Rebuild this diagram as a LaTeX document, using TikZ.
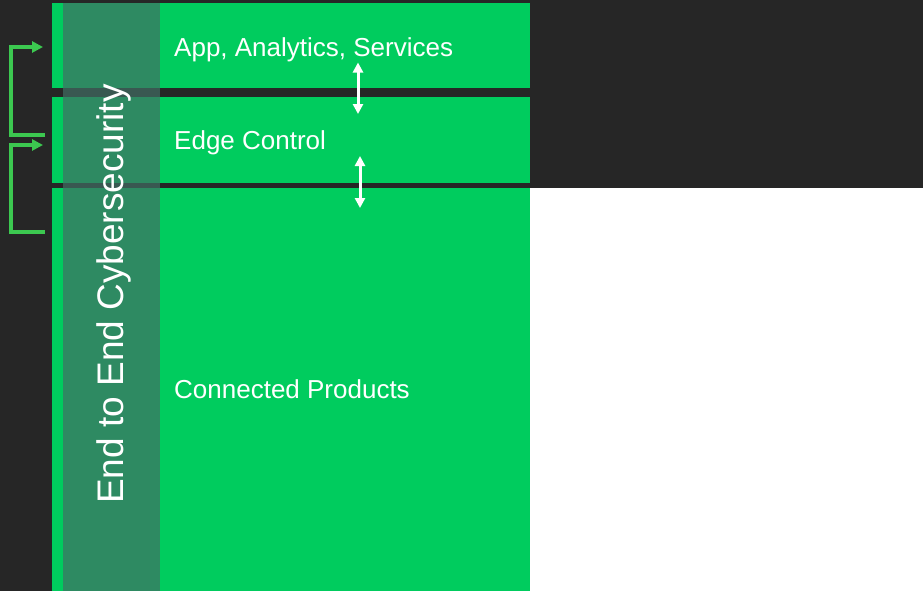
\documentclass[tikz,border=0pt]{standalone}
\usepackage{fontspec}
\setmainfont{Liberation Sans}
\usetikzlibrary{positioning, arrows.meta}
\definecolor{bg}{RGB}{38,38,38}
\definecolor{layergreen}{RGB}{0,204,94}
\definecolor{bandgrey}{RGB}{66,110,100}
\definecolor{loopgreen}{RGB}{60,200,80}
\tikzset{
  layer/.style={fill=layergreen, minimum width=478pt, anchor=north west, inner sep=0pt, outer sep=0pt},
  lbl/.style={text=white, font=\fontsize{26}{30}\selectfont, inner sep=0pt, text height=18.6pt, text depth=0pt},
  band/.style={fill=bandgrey, fill opacity=0.7, minimum width=97pt, minimum height=588pt, anchor=north west, inner sep=0pt},
  link/.style={white, line width=3pt, {Triangle[length=10pt,width=10pt]}-{Triangle[length=10pt,width=10pt]}},
  loop/.style={loopgreen, line width=3.3pt, -{Triangle[length=11pt,width=11pt]}}
}

\begin{document}
\begin{tikzpicture}[x=1pt, y=-1pt]
      \fill[bg] (0,0) rectangle (923,591);
      \fill[white] (530,188) rectangle (923,591);

      \node[layer, minimum height=85pt] (app) at (52,3) {};
      \node[layer, minimum height=86pt] (edge) at (52,97) {};
      \node[layer, minimum height=403pt] (prod) at (52,188) {};
      \node[band] (sec) at (63,3) {};

      \node[lbl, anchor=west, right=122pt of app.west, yshift=-1.5pt] (applbl) {App, Analytics, Services};
      \node[lbl, anchor=west, right=122pt of edge.west] (edgelbl) {Edge Control};
      \node[lbl, anchor=west, right=122pt of prod.west] (prodlbl) {Connected Products};
      \node[lbl, rotate=90, font=\fontsize{37}{40}\selectfont, text height=26.5pt] (seclbl) at (110.4,294) {End to End Cybersecurity};

      % links between layers
      \coordinate (a1) at (358,62.5);
      \coordinate (a2) at (358,114);
      \coordinate (b1) at (360,156);
      \coordinate (b2) at (360,208);
      \draw[link] (a1) -- (a2);
      \draw[link] (b1) -- (b2);

      % feedback loops
      \coordinate (e1) at (45,135);
      \coordinate (e2) at (43,47);
      \coordinate (p1) at (45,232);
      \coordinate (p2) at (43,145);
      \draw[loop] (e1) -| (11,91) |- (e2);
      \draw[loop] (p1) -| (11,188) |- (p2);
    \end{tikzpicture}
\end{document}
